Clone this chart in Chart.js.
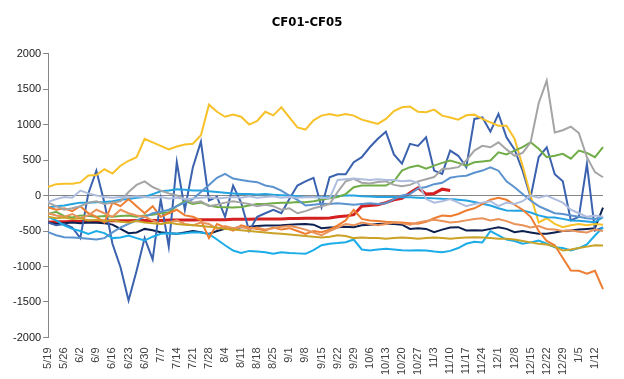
<!DOCTYPE html>
<html>
<head>
<meta charset="utf-8">
<script src="https://cdn.jsdelivr.net/npm/chart.js@4"></script>
<style>
  body { margin: 0; background: #fff; }
  canvas { display: block; }
</style>
</head>
<body>
<canvas id="myChart" width="624" height="379"></canvas>
<script>
// Weekly tick labels on the x axis
let tickLabels = ["5/19", "5/26", "6/2", "6/9", "6/16", "6/23", "6/30", "7/7", "7/14", "7/21",
    "7/28", "8/4", "8/11", "8/18", "8/25", "9/1", "9/8", "9/15", "9/22", "9/29",
    "10/6", "10/13", "10/20", "10/27", "11/3", "11/10", "11/17", "11/24", "12/1", "12/8",
    "12/15", "12/22", "12/29", "1/5", "1/12"];

// Series values, two readings per week
let yellowLine = [120, 160, 165, 165, 185, 282, 290, 370, 310, 420,
    490, 540, 800, 750, 700, 650, 690, 720, 730, 850,
    1280, 1180, 1110, 1140, 1110, 1000, 1050, 1180, 1130, 1243,
    1100, 960, 930, 1060, 1126, 1150, 1126, 1150, 1126, 1070,
    1040, 1009, 1080, 1190, 1243, 1253, 1180, 1173, 1210, 1126,
    1100, 1070, 1130, 1140, 1080, 1030, 985, 985, 800, 420,
    0, -380, -320, -400, -446, -420, -400, -420, -400, -410];

let darkYellowLine = [-300, -320, -310, -330, -320, -350, -340, -360, -350, -370,
    -380, -360, -380, -390, -400, -380, -400, -410, -420, -430,
    -440, -450, -470, -480, -490, -500, -510, -520, -530, -540,
    -550, -560, -570, -580, -590, -580, -560, -570, -600, -590,
    -600, -600, -610, -600, -590, -600, -610, -600, -590, -600,
    -610, -600, -590, -587, -590, -600, -610, -610, -620, -640,
    -660, -680, -690, -720, -775, -760, -740, -720, -700, -704];

let orangeLine2 = [-250, -280, -300, -260, -320, -280, -200, -250, -300, -200,
    -250, -280, -300, -350, -400, -380, -350, -400, -420, -380,
    -400, -470, -430, -460, -440, -470, -450, -480, -460, -440,
    -430, -450, -480, -520, -560, -500, -450, -400, -420, -380,
    -400, -420, -400, -380, -390, -410, -380, -360, -340, -360,
    -380, -370, -350, -330, -320, -350, -330, -360, -400, -420,
    -450, -430, -470, -480, -500, -490, -510, -520, -480, -500];

let lavenderLine = [-90, -50, -20, -30, 70, 30, 0, -20, -30, -20,
    -25, -10, -20, -30, -20, -40, -30, -50, -40, -30,
    -20, -40, -30, -20, -30, -10, -30, -20, -10, -30,
    -20, -30, -25, -20, -30, -40, 220, 230, 240, 230,
    220, 230, 220, 220, 200, 210, 180, -50, -100, -80,
    -50, -100, -150, -120, -100, -80, -150, -100, -120, -80,
    0, -30, 0, -50, -100, -200, -250, -300, -280, -300];

let grayLine = [-100, -150, -200, -180, -150, -100, -80, -120, -100, -80,
    50, 150, 200, 120, 70, 30, 0, -50, -100, -80,
    -150, -130, -100, -80, -100, -120, -150, -130, -150, -200,
    -180, -250, -220, -180, -150, -120, 50, 200, 235, 180,
    170, 190, 200, 150, 130, 150, 200, 230, 260, 375,
    380, 400, 493, 634, 700, 680, 750, 650, 560, 600,
    750, 1300, 1620, 890, 920, 971, 880, 540, 330, 258];

let lightBlueLine = [-516, -560, -587, -590, -600, -610, -620, -600, -520, -450,
    -400, -350, -300, -250, -230, -200, -150, -100, -50, 50,
    150, 250, 305, 240, 220, 200, 188, 141, 120, 70,
    0, -60, -141, -130, -117, -120, -110, -120, -130, -120,
    -110, -120, -110, -50, 0, 20, 100, 120, 160, 180,
    250, 270, 280, 320, 352, 398, 350, 200, 117, 23,
    -70, -150, -200, -250, -260, -280, -300, -320, -330, -300];

let orangeLine = [-164, -200, -180, -220, -150, -250, -300, -380, -100, -150,
    -50, -150, -250, -150, -300, -250, -200, -280, -300, -350,
    -600, -400, -450, -493, -420, -450, -470, -493, -450, -480,
    -460, -500, -540, -500, -516, -480, -420, -350, -200, -330,
    -352, -360, -370, -376, -380, -390, -399, -370, -320, -282,
    -290, -260, -211, -180, -120, -60, -30, -60, -130, -200,
    -300, -500, -640, -700, -880, -1056, -1060, -1100, -1060, -1320];

let greenLine = [-258, -230, -290, -310, -280, -290, -300, -290, -300, -290,
    -280, -300, -280, -270, -250, -235, -150, -80, -120, -100,
    -140, -160, -165, -170, -160, -140, -120, -120, -110, -100,
    -100, -90, -94, -80, -60, -40, -20, 20, 117, 141,
    141, 141, 140, 200, 352, 400, 422, 380, 422, 460,
    493, 460, 420, 469, 480, 493, 610, 580, 634, 681,
    751, 660, 540, 560, 587, 520, 634, 600, 540, 681];

let upperCyanLine = [-170, -150, -140, -120, -100, -100, -95, -90, -80, -60,
    -50, -30, -20, 20, 60, 70, 90, 80, 70, 70,
    60, 50, 40, 30, 20, 20, 15, 20, 10, 5,
    0, -10, -20, -20, -25, -20, -10, 0, 0, -10,
    -15, -20, -20, -20, -25, -25, -30, -35, -40, -47,
    -50, -60, -70, -90, -117, -140, -180, -211, -215, -211,
    -240, -280, -305, -310, -329, -352, -355, -365, -376, -305];

let lowerCyanLine = [-300, -350, -420, -470, -500, -540, -500, -530, -600, -590,
    -563, -600, -634, -580, -540, -530, -540, -530, -516, -520,
    -540, -620, -700, -775, -810, -780, -790, -800, -821, -800,
    -810, -815, -821, -770, -700, -680, -670, -657, -620, -760,
    -775, -760, -751, -760, -770, -775, -770, -775, -790, -798,
    -780, -740, -680, -650, -660, -500, -560, -620, -640, -680,
    -660, -634, -680, -728, -740, -775, -740, -690, -563, -446];

let blueLine = [-380, -420, -400, -450, -600, 30, 350, -100, -680, -1010,
    -1480, -1060, -600, -900, -50, -720, 470, -200, 400, 760,
    -70, -20, -300, 140, -100, -500, -300, -250, -200, -250,
    -50, 140, 200, 250, -164, 258, 300, 300, 470, 540,
    680, 800, 900, 580, 450, 728, 700, 821, 352, 305,
    634, 560, 400, 1080, 1100, 900, 1150, 821, 650, 350,
    -23, 540, 680, 300, 200, -350, -300, 446, -493, -450];

let navyLine = [-380, -400, -390, -380, -390, -380, -385, -390, -410, -470,
    -530, -520, -470, -490, -516, -530, -540, -520, -500, -516,
    -540, -500, -470, -460, -446, -440, -430, -422, -422, -420,
    -410, -405, -400, -410, -460, -450, -446, -440, -446, -420,
    -410, -400, -399, -400, -410, -470, -460, -470, -516, -480,
    -450, -446, -493, -490, -493, -470, -446, -470, -516, -500,
    -520, -540, -540, -520, -500, -493, -480, -470, -460, -170];

let redLine = [-375, -370, -370, -365, -365, -360, -360, -360, -355, -355,
    -355, -350, -350, -350, -350, -345, -345, -345, -345, -340,
    -340, -340, -340, -335, -335, -335, -330, -330, -330, -330,
    -325, -325, -320, -320, -320, -315, -300, -290, -270, -150,
    -140, -130, -100, -60, -40, 40, 110, 20, 30, 90,
    70, null, null, null, null, null, null, null, null, null,
    null, null, null, null, null, null, null, null, null, null];

// Category labels: a weekly label, then a blank half-week slot
let categories = [];
tickLabels.forEach(label => {
    categories.push(label);
    categories.push("");
});

// Build one dataset
let makeSeries = (data, color, width) => ({
    data: data,
    borderColor: color,
    backgroundColor: color,
    borderWidth: width || 2,
    pointRadius: 0,
    tension: 0,
    spanGaps: false
});

const ctx = document.getElementById('myChart').getContext('2d');
let myChart = new Chart(ctx, {
    type: 'line',
    data: {
        labels: categories,
        datasets: [
            makeSeries(darkYellowLine, "#C9A227"),
            makeSeries(orangeLine2, "#E9925A"),
            makeSeries(lavenderLine, "#AEBCDD"),
            makeSeries(grayLine, "#A5A5A5"),
            makeSeries(lightBlueLine, "#5B93CF"),
            makeSeries(orangeLine, "#ED7D31"),
            makeSeries(greenLine, "#70AD47"),
            makeSeries(upperCyanLine, "#23A3E0"),
            makeSeries(lowerCyanLine, "#1CACE8"),
            makeSeries(yellowLine, "#F7C12A"),
            makeSeries(blueLine, "#3A62AE"),
            makeSeries(navyLine, "#0D2150"),
            makeSeries(redLine, "#D42020", 3)
        ]
    },
    options: {
        responsive: false,
        animation: false,
        layout: { padding: { left: 11, right: 21, top: 0, bottom: 2 } },
        plugins: {
            legend: { display: false },
            tooltip: { enabled: false },
            title: {
                display: true,
                text: "CF01-CF05",
                color: "#000",
                font: { family: "DejaVu Sans Condensed", size: 13, weight: "bold" },
                padding: { top: 15, bottom: 23 }
            }
        },
        scales: {
            x: {
                grid: { display: false },
                border: { display: false },
                ticks: {
                    autoSkip: false,
                    maxRotation: 90,
                    minRotation: 90,
                    padding: 2,
                    color: "#404040",
                    font: { family: "Liberation Sans", size: 11 }
                }
            },
            y: {
                min: -2000,
                max: 2000,
                border: { display: true, color: "#868686", width: 1 },
                grid: {
                    drawOnChartArea: true,
                    color: (c) => (c.tick && c.tick.value === 0) ? "#868686" : "rgba(0,0,0,0)",
                    tickColor: "#868686",
                    tickLength: 5
                },
                ticks: {
                    stepSize: 500,
                    padding: 2,
                    color: "#202020",
                    font: { family: "Liberation Sans", size: 11 },
                    callback: (value) => String(value)
                }
            }
        }
    }
});
</script>
</body>
</html>
